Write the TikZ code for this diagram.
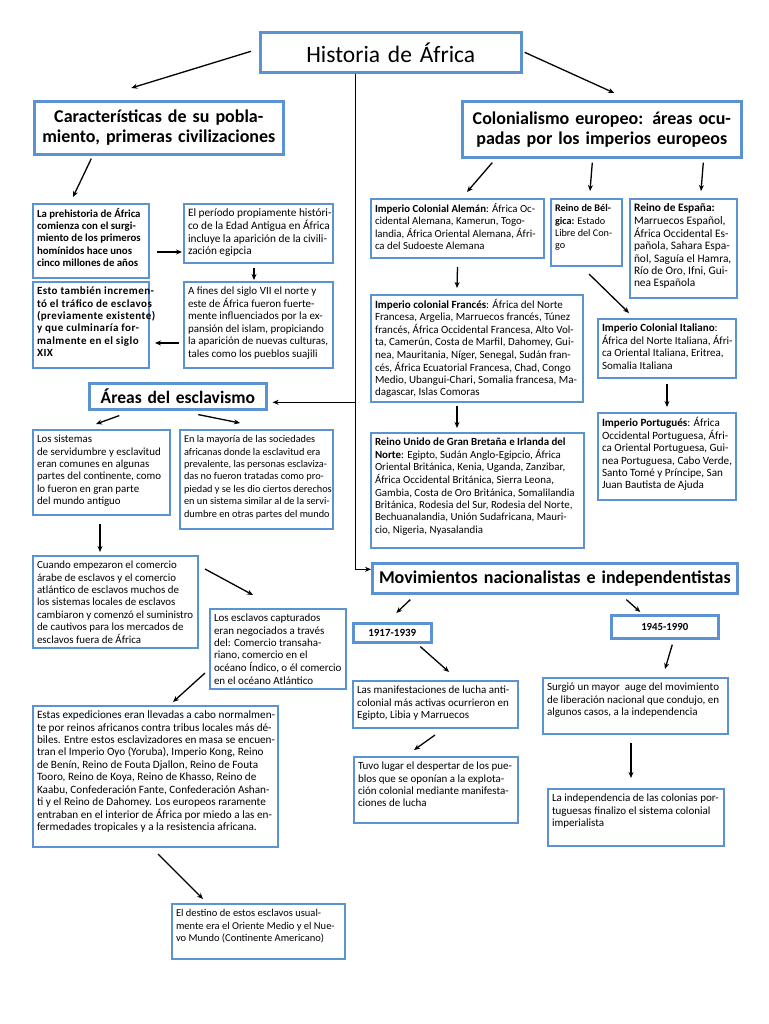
\documentclass[tikz,border=0pt]{standalone}
\usepackage{fontspec}
\setmainfont{Carlito}
\usetikzlibrary{arrows.meta,calc}
\definecolor{bcol}{RGB}{91,146,210}
\newcommand\fs[1]{\fontsize{#1}{12.4}\selectfont}
\newcommand\tbx[7][\fs{11}]{%
 \pgfmathsetlengthmacro\bw{(#5-#3)*1pt-8pt}%
 \pgfmathsetlengthmacro\bh{(#6-#4)*1pt-8pt}%
 \node[tbox, font={#1}] (#2) at (#3,#4) {\parbox[c][\bh][t]{\bw}{\begin{tabular}[t]{@{}l@{}}#7\end{tabular}}};}
\newcommand\hbx[7]{%
 \pgfmathsetlengthmacro\bw{(#4-#2)*1pt}%
 \pgfmathsetlengthmacro\bh{(#5-#3)*1pt}%
 \pgfmathsetlengthmacro\tw{(#4-#2)*1pt-2pt}%
 \node[hbox, minimum width=\bw, minimum height=\bh, text width=\tw, font={#6}] (#1) at (#2,#3) {#7};}
\begin{document}
\begin{tikzpicture}[x=1pt,y=-1pt,
 arr/.style={-{Stealth[length=6pt,width=5pt]}, line width=1.3pt},
 tbox/.style={draw=bcol, line width=2pt, anchor=north west, inner sep=4pt},
 hbox/.style={draw=bcol, line width=2.6pt, anchor=north west, inner sep=0pt, align=center}]
\fill[white] (0,0) rectangle (768,1024);
\useasboundingbox (0,0) rectangle (768,1024);
% headers
\hbx{title}{259}{31}{520}{71}{\fontsize{23.5}{26}\selectfont}{Historia de África}
\hbx{lh}{33}{100}{282}{153}{\bfseries\fontsize{18}{20}\selectfont}{Características de su pobla-\\miento, primeras civilizaciones}
\hbx{rh}{461}{100}{740}{156}{\bfseries\fontsize{18}{20}\selectfont}{Colonialismo europeo: áreas ocu-\\padas por los imperios europeos}
\hbx{areas}{88}{382}{265}{408}{\bfseries\fontsize{17.5}{20}\selectfont}{Áreas del esclavismo}
\hbx{mov}{371}{562}{736}{592}{\bfseries\fontsize{18}{20}\selectfont}{Movimientos nacionalistas e independentistas}
\hbx{ya}{352}{622}{430}{641}{\bfseries\fontsize{11}{12}\selectfont}{1917-1939}
\hbx{yb}{610}{614}{717}{637}{\bfseries\fontsize{10.8}{12}\selectfont}{1945-1990}
% left column
\tbx[\fs{10.8}\bfseries]{A}{32}{203}{148}{277}{La prehistoria de África\\comienza con el surgi-\\miento de los primeros\\homínidos hace unos\\cinco millones de años}
\tbx[\fs{11.3}]{B}{183}{203}{332}{262}{El período propiamente históri-\\co de la Edad Antigua en África\\incluye la aparición de la civili-\\zación egipcia}
\tbx[\fs{11}\bfseries\addfontfeatures{LetterSpace=4}]{D}{32}{281}{148}{367}{Esto también incremen-\\tó el tráfico de esclavos\\(previamente existente)\\y que culminaría for-\\malmente en el siglo\\XIX}
\tbx[\fs{11}]{C}{183}{281}{332}{367}{A fines del siglo VII el norte y\\este de África fueron fuerte-\\mente influenciados por la ex-\\pansión del islam, propiciando\\la aparición de nuevas culturas,\\tales como los pueblos suajili}
\tbx[\fs{10.9}]{E}{32}{429}{169}{514}{Los sistemas\\de servidumbre y esclavitud\\eran comunes en algunas\\partes del continente, como\\lo fueron en gran parte\\del mundo antiguo}
\tbx[\fs{10.3}]{F}{179}{429}{332}{528}{En la mayoría de las sociedades\\africanas donde la esclavitud era\\prevalente, las personas esclaviza-\\das no fueron tratadas como pro-\\piedad y se les dio ciertos derechos\\en un sistema similar al de la servi-\\dumbre en otras partes del mundo}
\tbx[\fs{10.9}]{G}{32}{555}{197}{647}{Cuando empezaron el comercio\\árabe de esclavos y el comercio\\atlántico de esclavos muchos de\\los sistemas locales de esclavos\\cambiaron y comenzó el suministro\\de cautivos para los mercados de\\esclavos fuera de África}
\tbx[\fs{11}]{H}{209}{608}{345}{688}{Los esclavos capturados\\eran negociados a través\\del: Comercio transaha-\\riano, comercio en el\\océano Índico, o él comercio\\en el océano Atlántico}
\tbx[\fs{11.2}]{I}{32}{705}{277}{846}{Estas expediciones eran llevadas a cabo normalmen-\\te por reinos africanos contra tribus locales más dé-\\biles. Entre estos esclavizadores en masa se encuen-\\tran el Imperio Oyo (Yoruba), Imperio Kong, Reino\\de Benín, Reino de Fouta Djallon, Reino de Fouta\\Tooro, Reino de Koya, Reino de Khasso, Reino de\\Kaabu, Confederación Fante, Confederación Ashan-\\ti y el Reino de Dahomey. Los europeos raramente\\entraban en el interior de África por miedo a las en-\\fermedades tropicales y a la resistencia africana.}
\tbx[\fs{10.5}]{J}{171}{903}{344}{958}{El destino de estos esclavos usual-\\mente era el Oriente Medio y el Nue-\\vo Mundo (Continente Americano)}
% right column
\tbx[\fs{10.8}]{K}{370}{198}{543}{257}{\textbf{Imperio Colonial Alemán}: África Oc-\\cidental Alemana, Kamerun, Togo-\\landia, África Oriental Alemana, Áfri-\\ca del Sudoeste Alemana}
\tbx[\fs{10.2}]{Bel}{550}{198}{621}{265}{\textbf{Reino de Bél-}\\\textbf{gica:} Estado\\Libre del Con-\\go}
\tbx[\fs{11.4}]{Esp}{629}{198}{736}{297}{\textbf{Reino de España:}\\Marruecos Español,\\África Occidental Es-\\pañola, Sahara Espa-\\ñol, Saguía el Hamra,\\Río de Oro, Ifni, Gui-\\nea Española}
\tbx[\fs{11}]{L}{370}{294}{582}{401}{\textbf{Imperio colonial Francés}: África del Norte\\Francesa, Argelia, Marruecos francés, Túnez\\francés, África Occidental Francesa, Alto Vol-\\ta, Camerún, Costa de Marfil, Dahomey, Gui-\\nea, Mauritania, Níger, Senegal, Sudán fran-\\cés, África Ecuatorial Francesa, Chad, Congo\\Medio, Ubangui-Chari, Somalia francesa, Ma-\\dagascar, Islas Comoras}
\tbx[\fs{10.9}]{M}{370}{432}{583}{547}{\textbf{Reino Unido de Gran Bretaña e Irlanda del}\\\textbf{Norte}: Egipto, Sudán Anglo-Egipcio, África\\Oriental Británica, Kenia, Uganda, Zanzibar,\\África Occidental Británica, Sierra Leona,\\Gambia, Costa de Oro Británica, Somalilandia\\Británica, Rodesia del Sur, Rodesia del Norte,\\Bechuanalandia, Unión Sudafricana, Mauri-\\cio, Nigeria, Nyasalandia}
\tbx[\fs{11}]{Ita}{597}{318}{735}{377}{\textbf{Imperio Colonial Italiano}:\\África del Norte Italiana, Áfri-\\ca Oriental Italiana, Eritrea,\\Somalia Italiana}
\tbx[\fs{11.1}]{Por}{597}{412}{735}{499}{\textbf{Imperio Portugués}: África\\Occidental Portuguesa, Áfri-\\ca Oriental Portuguesa, Gui-\\nea Portuguesa, Cabo Verde,\\Santo Tomé y Príncipe, San\\Juan Bautista de Ajuda}
% bottom right
\tbx[\fs{11}]{Las}{352}{680}{517}{727}{Las manifestaciones de lucha anti-\\colonial más activas ocurrieron en\\Egipto, Libia y Marruecos}
\tbx[\fs{11}]{Surg}{542}{677}{727}{733}{Surgió un mayor\ \ auge del movimiento\\de liberación nacional que condujo, en\\algunos casos, a la independencia}
\tbx[\fs{11}]{Tuvo}{353}{756}{517}{822}{Tuvo lugar el despertar de los pue-\\blos que se oponían a la explota-\\ción colonial mediante manifesta-\\ciones de lucha}
\tbx[\fs{11}]{Ind}{547}{788}{723}{845}{La independencia de las colonias por-\\tuguesas finalizo el sistema colonial\\imperialista}
% connectors
\draw[arr] ($(title.west)+(-8,-1)$) -- ($(lh.north)+(-27.5,-12)$);
\draw[arr] ($(title.east)+(2,0)$) -- ($(rh.north)+(12.5,-7)$);
\coordinate (trunk) at ($(title.south)+(-35.5,0)$);
\coordinate (movin) at ($(mov.west)+(0,-9)$);
\draw[arr, line width=1.5pt] (trunk) |- (movin);
\coordinate (arin) at ($(areas.east)+(5,6)$);
\draw[arr] (trunk |- arin) -- (arin);
\draw[arr] ($(lh.south)+(-67.5,3)$) -- ($(A.north)+(-18,-6)$);
\draw[arr] ($(rh.south)+(-109.5,4)$) -- ($(K.north)+(9.5,-6)$);
\draw[arr] ($(rh.south)+(-9.5,4)$) -- ($(Bel.north)+(3.5,-7)$);
\draw[arr] ($(rh.south)+(101.5,4)$) -- ($(Esp.north)+(17.5,-7)$);
\draw[arr] ($(A.east)+(7,11)$) -- ($(B.west)+(-1,18.5)$);
\draw[arr] ($(B.south)+(-4.5,4)$) -- ($(C.north)+(-4.5,-1)$);
\draw[arr] ($(C.west)+(-4,18)$) -- ($(D.east)+(5,18)$);
\draw[arr] ($(K.south)+(0,8)$) -- ($(L.north)+(-20,-6)$);
\draw[arr] ($(L.south)+(-20,3)$) -- ($(M.north)+(-20.5,-4)$);
\draw[arr] ($(Bel.south)+(2.5,7)$) -- ($(Ita.north)+(-38,-5)$);
\draw[arr] ($(Ita.south)+(0,5)$) -- ($(Por.north)+(0,-5)$);
\draw[arr] ($(areas.south)+(-58.5,5)$) -- ($(E.north)+(-5.5,-5)$);
\draw[arr] ($(areas.south)+(20.5,4)$) -- ($(F.north)+(-16.5,-6)$);
\draw[arr] ($(E.south)+(-1.5,8)$) -- ($(G.north)+(-15.5,-3)$);
\draw[arr] ($(G.east)+(6,-33)$) -- ($(H.north)+(-25,-13)$);
\draw[arr] ($(H.west)+(-4,24)$) -- ($(I.north)+(17.5,-3)$);
\draw[arr] ($(I.south)+(2.5,6)$) -- ($(J.north)+(-55.5,-4)$);
\draw[arr] ($(mov.south)+(-144.5,5)$) -- ($(ya.north)+(4,-9)$);
\draw[arr] ($(mov.south)+(71.5,5)$) -- ($(yb.north)+(-24.5,-2)$);
\draw[arr] ($(ya.south)+(28,3)$) -- ($(Las.north)+(13.5,-8)$);
\draw[arr] ($(yb.south)+(7.5,5)$) -- ($(Surg.north)+(29.5,-8)$);
\draw[arr] ($(Las.south)+(-0.5,6)$) -- ($(Tuvo.north)+(-22,-6)$);
\draw[arr] ($(Surg.south)+(-4.5,8)$) -- ($(Ind.north)+(-5,-10)$);
\end{tikzpicture}
\end{document}
